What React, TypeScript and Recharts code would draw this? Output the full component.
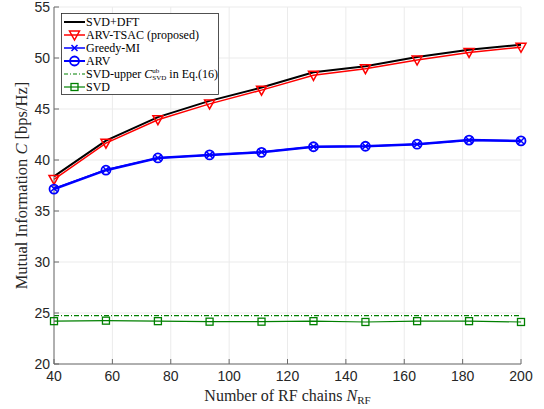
import React from 'react';
import { LineChart, Line, XAxis, YAxis, CartesianGrid, Legend, Label } from 'recharts';

const nRF = [40, 57.8, 75.6, 93.3, 111.1, 128.9, 146.7, 164.4, 182.2, 200];
const svdDft = [38.4, 41.9, 44.2, 45.8, 47.1, 48.6, 49.2, 50.1, 50.8, 51.3];
const arvTsac = [38.1, 41.65, 43.95, 45.5, 46.85, 48.3, 48.95, 49.8, 50.55, 51.05];
const greedyMI = [37.2, 39.05, 40.2, 40.5, 40.78, 41.3, 41.35, 41.55, 41.93, 41.87];
const arv = [37.15, 39.0, 40.2, 40.5, 40.75, 41.3, 41.35, 41.55, 41.95, 41.87];
const svdUpper = [24.75, 24.75, 24.75, 24.75, 24.75, 24.75, 24.75, 24.75, 24.75, 24.75];
const svd = [24.2, 24.25, 24.2, 24.15, 24.15, 24.2, 24.12, 24.2, 24.2, 24.12];

const xTicks = [40, 60, 80, 100, 120, 140, 160, 180, 200];
const yTicks = [20, 25, 30, 35, 40, 45, 50, 55];

const data = nRF.map((x, i) => ({
  x,
  svdDft: svdDft[i],
  arvTsac: arvTsac[i],
  greedyMI: greedyMI[i],
  arv: arv[i],
  svdUpper: svdUpper[i],
  svd: svd[i],
}));

const RED = '#ff0000';
const BLUE = '#0000ff';
const GREEN = '#008000';
const AXIS = '#6b6b6b';
const SERIF = '"Liberation Serif", "DejaVu Serif", serif';
const SANS = '"Liberation Sans", Arial, sans-serif';

const TriDown = ({ cx, cy, color, k }: any) => (
  <path key={k} d={`M${cx - 5},${cy - 4} L${cx + 5},${cy - 4} L${cx},${cy + 5} Z`} fill="none" stroke={color} strokeWidth={1.5} />
);
const Circ = ({ cx, cy, color, k }: any) => (
  <circle key={k} cx={cx} cy={cy} r={4.5} fill="none" stroke={color} strokeWidth={1.8} />
);
const Cross = ({ cx, cy, color, k }: any) => (
  <path key={k} d={`M${cx - 3},${cy - 3} L${cx + 3},${cy + 3} M${cx - 3},${cy + 3} L${cx + 3},${cy - 3}`} stroke={color} strokeWidth={1.5} />
);
const Sq = ({ cx, cy, color, k }: any) => (
  <rect key={k} x={cx - 3.5} y={cy - 3.5} width={7} height={7} fill="none" stroke={color} strokeWidth={1.3} />
);

const mk = (Comp: any, color: string) => (p: any) => {
  if (p.cx == null || p.cy == null) return <g key={p.key} />;
  return <Comp cx={p.cx} cy={p.cy} color={color} k={p.key} />;
};

const legendRows = [
  { label: 'SVD+DFT', color: '#000', width: 2, dash: undefined, marker: null },
  { label: 'ARV-TSAC (proposed)', color: RED, width: 1.5, dash: undefined, marker: TriDown },
  { label: 'Greedy-MI', color: BLUE, width: 1.5, dash: undefined, marker: Cross },
  { label: 'ARV', color: BLUE, width: 2, dash: undefined, marker: Circ },
  { label: 'upper', color: GREEN, width: 1.2, dash: '4 2 1 2', marker: null },
  { label: 'SVD', color: GREEN, width: 1.2, dash: undefined, marker: Sq },
];

const LegendBox = () => (
  <svg width={158} height={82} style={{ display: 'block' }}>
    <rect x={0.5} y={0.5} width={157} height={81} fill="#fff" stroke="#262626" strokeWidth={0.8} />
    {legendRows.map((r, i) => {
      const y = 9 + i * 13;
      const M: any = r.marker;
      return (
        <g key={i}>
          <line x1={3} x2={24} y1={y} y2={y} stroke={r.color} strokeWidth={r.width} strokeDasharray={r.dash} />
          {M ? <M cx={13.5} cy={y} color={r.color} k={'m' + i} /> : null}
          {r.label === 'upper' ? (
            <text x={25} y={y + 4} fontFamily={SERIF} fontSize={12} fill="#000">
              SVD-upper <tspan fontStyle="italic">C</tspan>
              <tspan fontSize={7} dy={-5}>ub</tspan>
              <tspan fontSize={7} dx={-7} dy={7}>SVD</tspan>
              <tspan dy={-2}> in Eq.(16)</tspan>
            </text>
          ) : (
            <text x={25} y={y + 4} fontFamily={SERIF} fontSize={12} fill="#000">
              {r.label}
            </text>
          )}
        </g>
      );
    })}
  </svg>
);

const YLabel = (props: any) => {
  const vb = props.viewBox || {};
  const cx = 21;
  const cy = vb.y + vb.height / 2;
  return (
    <text x={cx} y={cy} transform={`rotate(-90 ${cx} ${cy})`} textAnchor="middle" fontFamily={SERIF} fontSize={16.5} fill="#262626" dominantBaseline="central">
      <tspan>Mutual Information </tspan>
      <tspan fontStyle="italic">C</tspan>
      <tspan> [bps/Hz]</tspan>
    </text>
  );
};

const XLabel = (props: any) => {
  const vb = props.viewBox || {};
  const cx = vb.x + vb.width / 2;
  return (
    <text x={cx} y={401} textAnchor="middle" fontFamily={SERIF} fontSize={16} fill="#262626">
      <tspan>Number of RF chains </tspan>
      <tspan fontStyle="italic">N</tspan>
      <tspan fontSize={11} dy={3}>RF</tspan>
    </text>
  );
};

export default function App() {
  return (
    <div style={{ position: 'absolute', left: 0, top: 0, width: 544, height: 409, background: '#fff' }}>
      <LineChart width={544} height={409} data={data} margin={{ top: 7, right: 23, bottom: 0, left: 0 }}>
        <CartesianGrid stroke="#ebebeb" strokeWidth={1} />
        <XAxis
          dataKey="x"
          type="number"
          domain={[40, 200]}
          ticks={xTicks}
          height={45}
          tickSize={-5}
          tickMargin={12}
          stroke={AXIS}
          tick={{ fill: '#262626', fontFamily: SANS, fontSize: 14 }}
          interval={0}
        >
          <Label content={XLabel} />
        </XAxis>
        <XAxis xAxisId="top" orientation="top" dataKey="x" type="number" domain={[40, 200]} ticks={xTicks} height={0} tickSize={-5} stroke={AXIS} tickFormatter={() => ''} interval={0} />
        <YAxis
          type="number"
          domain={[20, 55]}
          ticks={yTicks}
          width={54}
          tickSize={-5}
          tickMargin={9}
          stroke={AXIS}
          tick={{ fill: '#262626', fontFamily: SANS, fontSize: 14 }}
          interval={0}
        >
          <Label content={YLabel} />
        </YAxis>
        <YAxis yAxisId="right" orientation="right" type="number" domain={[20, 55]} ticks={yTicks} width={0} tickSize={-5} stroke={AXIS} tickFormatter={() => ''} interval={0} />
        <Line dataKey="svdDft" stroke="#000" strokeWidth={2} dot={false} isAnimationActive={false} />
        <Line dataKey="arvTsac" stroke={RED} strokeWidth={1.5} dot={mk(TriDown, RED)} isAnimationActive={false} />
        <Line dataKey="arv" stroke={BLUE} strokeWidth={2.5} dot={mk(Circ, BLUE)} isAnimationActive={false} />
        <Line dataKey="greedyMI" stroke={BLUE} strokeWidth={1.5} dot={mk(Cross, BLUE)} isAnimationActive={false} />
        <Line dataKey="svdUpper" stroke={GREEN} strokeWidth={1.2} strokeDasharray="5 2 1 2" dot={false} isAnimationActive={false} />
        <Line dataKey="svd" stroke={GREEN} strokeWidth={1.2} dot={mk(Sq, GREEN)} isAnimationActive={false} />
        <Legend
          layout="vertical"
          align="center"
          verticalAlign="middle"
          content={LegendBox}
          wrapperStyle={{ position: 'absolute', left: 61, top: 13, width: 158, height: 82 }}
        />
      </LineChart>
    </div>
  );
}
